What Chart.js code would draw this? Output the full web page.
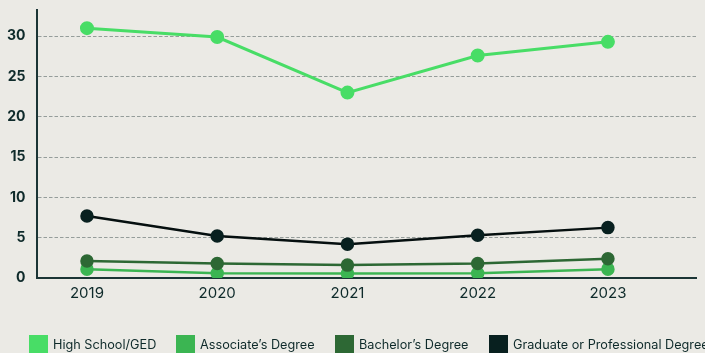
<!DOCTYPE html>
<html>
<head>
<meta charset="utf-8">
<script src="https://cdn.jsdelivr.net/npm/chart.js@4.4.1/dist/chart.umd.min.js"></script>
<style>
  html, body { margin: 0; padding: 0; background: #ebeae5; overflow: hidden; }
  #wrap { position: relative; width: 705px; height: 353px; }
  #chartBox { position: absolute; left: 0; top: 0; width: 705px; height: 353px; }
  #legend { position: absolute; left: 0; top: 335px; height: 18px; white-space: nowrap;
            font-family: Inter, "DejaVu Sans", sans-serif; font-size: 12.7px; color: #0e2a2a; }
  #legend .item { position: absolute; top: 0; display: flex; align-items: center; height: 19px; }
  #legend .box { width: 19px; height: 19px; margin-right: 5px; }
</style>
</head>
<body>
<div id="wrap">
  <div id="chartBox"><canvas id="degreeChart"></canvas></div>
  <div id="legend"></div>
</div>
<script>
var years = [2019, 2020, 2021, 2022, 2023];
var highSchool = [31.0, 29.9, 23.0, 27.6, 29.3];
var associates = [1.1, 0.6, 0.55, 0.6, 1.1];
var bachelors = [2.1, 1.8, 1.6, 1.8, 2.4];
var graduate = [7.7, 5.2, 4.2, 5.3, 6.25];
var yTicks = [0, 5, 10, 15, 20, 25, 30];

var seriesNames = ['High School/GED', "Associate\u2019s Degree", "Bachelor\u2019s Degree", 'Graduate or Professional Degree'];
var seriesColors = ['#48dd66', '#3bb552', '#2d6834', '#08201f'];
var lineColors = ['#48dd66', '#3bb552', '#2d6834', '#050f0f'];
var legendLeft = [29, 176, 335, 489];

function points(values) {
    return years.map(function (y, i) { return { x: y, y: values[i] }; });
}

var allValues = [highSchool, associates, bachelors, graduate];
var datasets = allValues.map(function (vals, i) {
    return {
        label: seriesNames[i],
        data: points(vals),
        borderColor: lineColors[i],
        backgroundColor: seriesColors[i],
        pointBackgroundColor: seriesColors[i],
        pointBorderColor: seriesColors[i],
        pointRadius: 5.5,
        pointHoverRadius: 5.5,
        borderWidth: i === 0 ? 3 : 2.5,
        fill: false,
        tension: 0
    };
});

Chart.defaults.font.family = 'Inter, "DejaVu Sans", sans-serif';
Chart.defaults.color = '#0e2a2a';

var ctx = document.getElementById('degreeChart').getContext('2d');
var chart = new Chart(ctx, {
    type: 'line',
    // graduate line on the bottom, high school on top
    data: { datasets: datasets.slice().reverse() },
    options: {
        responsive: true,
        maintainAspectRatio: false,
        animation: false,
        layout: { padding: { left: -5, right: 5, top: 10, bottom: 45 } },
        plugins: {
            tooltip: { enabled: false },
            legend: { display: false }
        },
        scales: {
            x: {
                type: 'linear',
                min: 2018.62,
                max: 2023.68,
                ticks: {
                    stepSize: 1,
                    includeBounds: false,
                    padding: 6,
                    font: { size: 15 },
                    color: '#0e2a2a',
                    callback: function (v) { return String(v); }
                },
                grid: { display: false, drawTicks: false },
                border: { display: true, color: '#1b3535', width: 2 }
            },
            y: {
                min: 0,
                max: 33.25,
                afterBuildTicks: function (axis) {
                    axis.ticks = yTicks.map(function (v) { return { value: v }; });
                },
                afterFit: function (axis) {
                    axis.paddingTop = 0;
                    axis.paddingBottom = 0;
                },
                ticks: {
                    padding: 12,
                    font: { size: 14, weight: 'bold' },
                    color: '#0e2a2a'
                },
                grid: {
                    drawTicks: false,
                    color: function (c) { return c.tick && c.tick.value === 0 ? 'rgba(0,0,0,0)' : '#959d9a'; },
                    lineWidth: 1
                },
                border: { display: true, color: '#1b3535', width: 2, dash: [3.5, 2] }
            }
        }
    }
});

// legend as plain html under the plot
var legend = document.getElementById('legend');
seriesNames.forEach(function (name, i) {
    var item = document.createElement('div');
    item.className = 'item';
    item.style.left = legendLeft[i] + 'px';
    var box = document.createElement('span');
    box.className = 'box';
    box.style.background = seriesColors[i];
    var label = document.createElement('span');
    label.textContent = name;
    item.appendChild(box);
    item.appendChild(label);
    legend.appendChild(item);
});
</script>
</body>
</html>
